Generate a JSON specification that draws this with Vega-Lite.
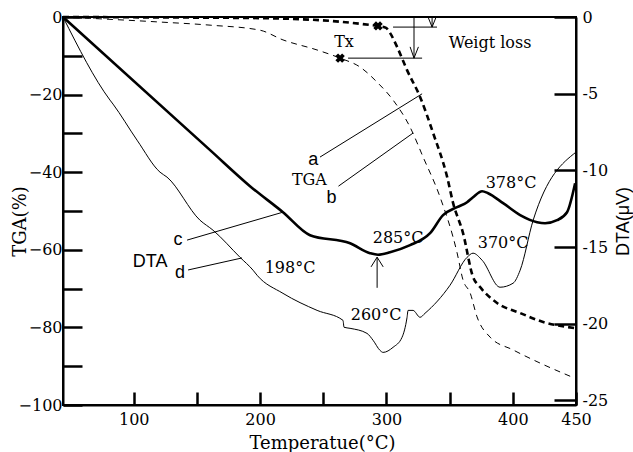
{
  "$schema": "https://vega.github.io/schema/vega-lite/v6.json",
  "width": 513,
  "height": 388,
  "autosize": {"type": "none"},
  "padding": {"left": 63, "top": 17, "right": 57, "bottom": 47},
  "background": "white",
  "config": {
    "view": {"stroke": "black", "strokeWidth": 2},
    "axis": {
      "domainColor": "black", "domainWidth": 2, "tickColor": "black", "tickWidth": 2.5,
      "labelFont": "DejaVu Serif", "labelFontSize": 16, "labelColor": "black",
      "grid": false, "labelFlush": false, "labelOverlap": false,
      "titleColor": "black", "titleFontWeight": "normal"
    }
  },
  "datasets": {
    "a": [
      {"T": 44, "v": 0}, {"T": 112.9, "v": -0.1}, {"T": 192.0, "v": -0.26}, {"T": 255.3, "v": -1.0},
      {"T": 287.0, "v": -2.06}, {"T": 293.3, "v": -2.32}, {"T": 299.7, "v": -2.8}, {"T": 302.8, "v": -4.1},
      {"T": 308.4, "v": -7.7}, {"T": 316.3, "v": -13.7}, {"T": 326.6, "v": -20.6}, {"T": 336.9, "v": -29.9},
      {"T": 348.0, "v": -41.2}, {"T": 352.7, "v": -47.9}, {"T": 360.6, "v": -55.7}, {"T": 368.5, "v": -67.0},
      {"T": 374.1, "v": -69.6}, {"T": 387.5, "v": -73.7}, {"T": 405.8, "v": -76.3}, {"T": 424.0, "v": -78.6},
      {"T": 450.0, "v": -80.2}
    ],
    "b": [
      {"T": 44, "v": 0}, {"T": 120.8, "v": -1.3}, {"T": 160.4, "v": -2.1}, {"T": 199.9, "v": -3.4},
      {"T": 218.1, "v": -5.9}, {"T": 245.1, "v": -8.5}, {"T": 263.3, "v": -10.6}, {"T": 279.1, "v": -12.9},
      {"T": 292.6, "v": -16.8}, {"T": 305.2, "v": -21.4}, {"T": 318.7, "v": -28.4}, {"T": 329.0, "v": -36.1},
      {"T": 342.4, "v": -46.4}, {"T": 355.9, "v": -60.8}, {"T": 360.6, "v": -67.8}, {"T": 366.2, "v": -71.1},
      {"T": 371.7, "v": -77.3}, {"T": 382.0, "v": -82.5}, {"T": 400.2, "v": -85.8}, {"T": 421.6, "v": -89.2},
      {"T": 446.9, "v": -92.8}
    ],
    "c": [
      {"T": 44, "v": 0}, {"T": 160.4, "v": -8.68}, {"T": 192.0, "v": -11.03}, {"T": 218.1, "v": -12.73},
      {"T": 239.5, "v": -14.23}, {"T": 271.2, "v": -14.75}, {"T": 287.0, "v": -15.40}, {"T": 293.3, "v": -15.50},
      {"T": 302.8, "v": -15.34}, {"T": 318.7, "v": -14.88}, {"T": 334.5, "v": -14.10}, {"T": 344.8, "v": -12.92},
      {"T": 355.9, "v": -12.40}, {"T": 363.8, "v": -12.08}, {"T": 368.5, "v": -11.75}, {"T": 375.7, "v": -11.36},
      {"T": 380.4, "v": -11.49}, {"T": 392.3, "v": -12.14}, {"T": 405.8, "v": -12.92}, {"T": 419.2, "v": -13.38},
      {"T": 425.5, "v": -13.45}, {"T": 435.0, "v": -13.25}, {"T": 442.9, "v": -12.73}, {"T": 449.3, "v": -10.84}
    ],
    "d": [
      {"T": 44, "v": 0}, {"T": 81.2, "v": -5.42}, {"T": 83.6, "v": -5.68}, {"T": 102.6, "v": -8.03},
      {"T": 120.8, "v": -10.12}, {"T": 126.3, "v": -10.44}, {"T": 152.4, "v": -13.25}, {"T": 162.7, "v": -13.90},
      {"T": 184.1, "v": -15.67}, {"T": 194.4, "v": -16.51}, {"T": 197.6, "v": -16.84}, {"T": 218.1, "v": -18.02},
      {"T": 245.1, "v": -19.13}, {"T": 265.6, "v": -19.78}, {"T": 266.4, "v": -20.23}, {"T": 271.2, "v": -20.30},
      {"T": 284.6, "v": -20.63}, {"T": 289.4, "v": -21.08}, {"T": 294.9, "v": -21.74}, {"T": 297.3, "v": -21.87},
      {"T": 305.2, "v": -21.54}, {"T": 312.3, "v": -20.89}, {"T": 316.3, "v": -19.58}, {"T": 317.1, "v": -19.13},
      {"T": 321.0, "v": -19.13}, {"T": 326.6, "v": -19.58}, {"T": 330.5, "v": -19.32}, {"T": 350.3, "v": -17.49},
      {"T": 363.8, "v": -15.67}, {"T": 368.5, "v": -15.40}, {"T": 375.7, "v": -15.86}, {"T": 389.9, "v": -17.62},
      {"T": 400.2, "v": -17.36}, {"T": 405.8, "v": -16.51}, {"T": 416.1, "v": -13.25}, {"T": 450.0, "v": -8.81}
    ],
    "rules": [
      {"T": 247.4, "v": -36.1, "T2": 328.2, "v2": -19.8},
      {"T": 262.0, "v": -43.6, "T2": 321.1, "v2": -29.9},
      {"T": 142.2, "v": -57.5, "T2": 218.1, "v2": -50.3},
      {"T": 143.0, "v": -65.2, "T2": 185.7, "v2": -62.1},
      {"T": 305.2, "v": -2.6, "T2": 340.0, "v2": -2.6},
      {"T": 269.6, "v": -10.6, "T2": 328.2, "v2": -10.6},
      {"T": 321.8, "v": 0, "T2": 321.8, "v2": -10.6},
      {"T": 318.7, "v": -7.7, "T2": 321.8, "v2": -10.6},
      {"T": 325.3, "v": -7.7, "T2": 321.8, "v2": -10.6},
      {"T": 336.1, "v": 0, "T2": 336.1, "v2": -2.6},
      {"T": 332.9, "v": 0, "T2": 336.1, "v2": -2.6},
      {"T": 339.3, "v": 0, "T2": 336.1, "v2": -2.6},
      {"T": 292.6, "v": -69.8, "T2": 292.6, "v2": -61.9},
      {"T": 287.8, "v": -64.4, "T2": 292.6, "v2": -61.9},
      {"T": 297.4, "v": -64.4, "T2": 292.6, "v2": -61.9}
    ],
    "xmarks": [{"T": 293.3, "v": -2.3}, {"T": 263.3, "v": -10.6}],
    "serifText": [
      {"T": 266.4, "v": -6.4, "text": "Tx"},
      {"T": 382.0, "v": -6.7, "text": "Weigt loss"},
      {"T": 239.0, "v": -42.0, "text": "TGA"},
      {"T": 223.7, "v": -64.7, "text": "198°C"},
      {"T": 309.2, "v": -57.0, "text": "285°C"},
      {"T": 291.8, "v": -76.8, "text": "260°C"},
      {"T": 392.3, "v": -58.2, "text": "370°C"},
      {"T": 398.6, "v": -42.8, "text": "378°C"}
    ],
    "sansText": [
      {"T": 242.1, "v": -36.9, "text": "a"},
      {"T": 256.5, "v": -46.6, "text": "b"},
      {"T": 135.0, "v": -57.5, "text": "c"},
      {"T": 112.9, "v": -63.1, "text": "DTA"},
      {"T": 136.6, "v": -66.0, "text": "d"}
    ]
  },
  "encoding": {
    "x": {
      "field": "T", "type": "quantitative",
      "scale": {"domain": [44, 450], "nice": false, "zero": false},
      "axis": {
        "orient": "bottom",
        "values": [100, 150, 200, 250, 300, 350, 400, 450],
        "tickSize": -13, "labelPadding": 19,
        "labelFont": "DejaVu Serif", "labelFontSize": 16,
        "labelExpr": "(datum.value % 100 == 0 || datum.value == 450) ? datum.label : ''",
        "title": "Temperatue(°C)", "titleFont": "DejaVu Serif", "titleFontSize": 18,
        "titleX": 259, "titleY": 38, "titleAlign": "center", "titleBaseline": "middle", "titleAngle": 0
      }
    }
  },
  "layer": [
    {
      "encoding": {
        "y": {
          "field": "v", "type": "quantitative",
          "scale": {"domain": [-100, 0], "nice": false, "zero": false},
          "axis": {
            "orient": "left",
            "values": [0, -10, -20, -30, -40, -50, -60, -70, -80, -90, -100],
            "tickSize": -19, "labelPadding": 20,
            "labelFont": "DejaVu Serif", "labelFontSize": 16,
            "labelExpr": "datum.value % 20 == 0 ? datum.label : ''",
            "title": "TGA(%)", "titleFont": "DejaVu Serif", "titleFontSize": 18,
            "titleAngle": -90, "titleX": -43, "titleY": 204, "titleAlign": "center", "titleBaseline": "middle"
          }
        }
      },
      "layer": [
        {"data": {"name": "a"}, "mark": {"type": "line", "color": "black", "strokeWidth": 2.6, "strokeDash": [6, 4], "interpolate": "monotone"}},
        {"data": {"name": "b"}, "mark": {"type": "line", "color": "black", "strokeWidth": 1, "strokeDash": [6, 5], "interpolate": "monotone"}},
        {"data": {"name": "rules"}, "mark": {"type": "rule", "color": "black", "strokeWidth": 1},
         "encoding": {"x2": {"field": "T2"}, "y2": {"field": "v2"}}},
        {"data": {"name": "xmarks"}, "mark": {"type": "point", "shape": "cross", "angle": 45, "size": 90, "filled": true, "color": "black", "opacity": 1}},
        {"data": {"name": "serifText"}, "mark": {"type": "text", "font": "DejaVu Serif", "fontSize": 16, "color": "black", "align": "center", "baseline": "middle"},
         "encoding": {"text": {"field": "text"}}},
        {"data": {"name": "sansText"}, "mark": {"type": "text", "font": "Liberation Sans", "fontSize": 18, "color": "black", "align": "center", "baseline": "middle"},
         "encoding": {"text": {"field": "text"}}}
      ]
    },
    {
      "encoding": {
        "y": {
          "field": "v", "type": "quantitative",
          "scale": {"domain": [-25.3, 0], "nice": false, "zero": false},
          "axis": {
            "orient": "right",
            "values": [0, -5, -10, -15, -20, -25],
            "tickSize": -22, "labelPadding": 28,
            "labelFont": "DejaVu Serif", "labelFontSize": 16,
            "labelExpr": "toString(datum.value)",
            "title": "DTA(μV)", "titleFont": "Liberation Sans", "titleFontSize": 18,
            "titleAngle": -90, "titleX": 47, "titleY": 204, "titleAlign": "center", "titleBaseline": "middle"
          }
        }
      },
      "layer": [
        {"data": {"name": "c"}, "mark": {"type": "line", "color": "black", "strokeWidth": 2.6, "interpolate": "monotone"}},
        {"data": {"name": "d"}, "mark": {"type": "line", "color": "black", "strokeWidth": 1, "interpolate": "monotone"}}
      ]
    }
  ],
  "resolve": {"scale": {"y": "independent"}}
}
